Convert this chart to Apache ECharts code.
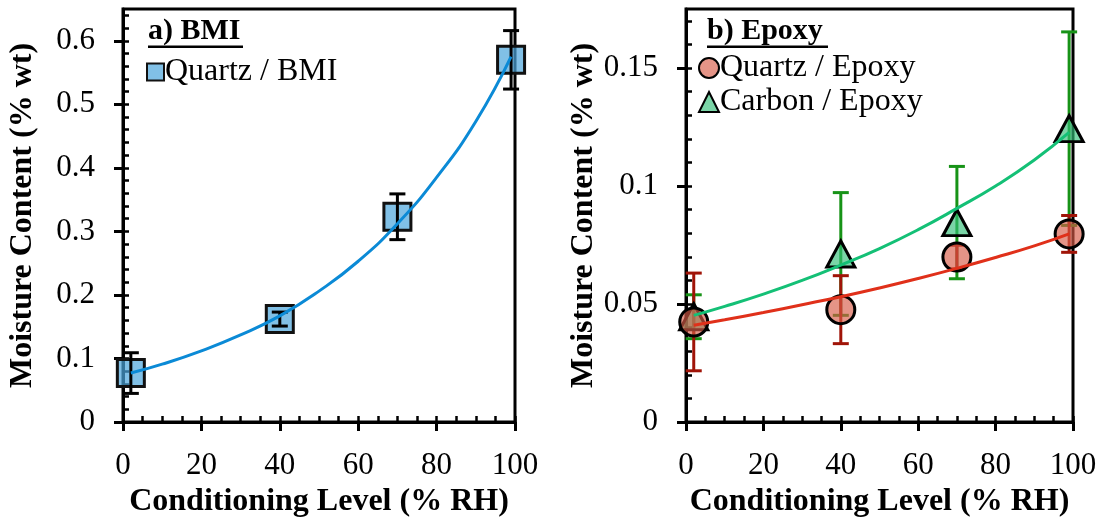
<!DOCTYPE html>
<html><head><meta charset="utf-8">
<script src="https://cdn.jsdelivr.net/npm/echarts@6/dist/echarts.min.js"></script>
<style>html,body{margin:0;padding:0;background:#fff}#c{width:1104px;height:517px}</style>
</head><body><div id="c"></div>
<script>
// ---------- Panel a) BMI ----------
const rhA = [2, 40, 70, 99];
const bmiMoisture = [0.077, 0.162, 0.323, 0.570];
const bmiError = [0.032, 0.011, 0.036, 0.046];
const bmiFitRH = [2, 10, 20, 30, 40, 50, 60, 70, 80, 90, 99];
const bmiFit = [0.077, 0.091, 0.112, 0.137, 0.167, 0.206, 0.253, 0.312, 0.385, 0.473, 0.575];

// ---------- Panel b) Epoxy ----------
const rhB = [2, 40, 70, 99];
const qeMoisture = [0.0424, 0.0476, 0.0699, 0.0797];
const qeError = [0.0207, 0.0144, 0.0050, 0.0078];
const ceMoisture = [0.0446, 0.0712, 0.0845, 0.1243];
const ceError = [0.0093, 0.0260, 0.0238, 0.0410];
const fitRH = [2, 10, 20, 30, 40, 50, 60, 70, 80, 90, 99];
const qeFit = [0.0410, 0.0433, 0.0464, 0.0497, 0.0531, 0.0568, 0.0608, 0.0651, 0.0697, 0.0746, 0.0797];
const ceFit = [0.0452, 0.0490, 0.0542, 0.0600, 0.0665, 0.0735, 0.0815, 0.0905, 0.1000, 0.1110, 0.1227];

// ---------- Ticks ----------
const xTicks = [0, 20, 40, 60, 80, 100];
const xMinorTicks = [0, 5, 10, 15, 20, 25, 30, 35, 40, 45, 50, 55, 60, 65, 70, 75, 80, 85, 90, 95, 100];
const yTicksA = [0, 0.1, 0.2, 0.3, 0.4, 0.5, 0.6];
const yMinorTicksA = [0, 0.02, 0.04, 0.06, 0.08, 0.1, 0.12, 0.14, 0.16, 0.18, 0.2, 0.22, 0.24, 0.26, 0.28, 0.3, 0.32, 0.34, 0.36, 0.38, 0.4, 0.42, 0.44, 0.46, 0.48, 0.5, 0.52, 0.54, 0.56, 0.58, 0.6, 0.62, 0.64];
const yTicksB = [0, 0.05, 0.1, 0.15];
const yMinorTicksB = [0, 0.01, 0.02, 0.03, 0.04, 0.05, 0.06, 0.07, 0.08, 0.09, 0.1, 0.11, 0.12, 0.13, 0.14, 0.15, 0.16, 0.17];

const FONT = '"Liberation Serif", "Times New Roman", serif';
const labelStyle = {fontFamily: FONT, fontSize: 31, color: '#000'};
const legendStyle = {fontFamily: FONT, fontSize: 32, color: '#000'};
const nameStyle = {fontFamily: FONT, fontSize: 32, fontWeight: 'bold', color: '#000'};

function mainAxis(gridIndex, min, max, ticks, extra) {
  return Object.assign({
    type: 'value', gridIndex, min, max,
    axisLine: {show: true, onZero: false, lineStyle: {color: '#000', width: 3}},
    axisTick: {show: true, inside: false, length: 9, lineStyle: {color: '#000', width: 3}, customValues: ticks},
    axisLabel: {show: true, customValues: ticks, ...labelStyle},
    splitLine: {show: false},
    nameTextStyle: nameStyle,
    nameLocation: 'middle'
  }, extra);
}
function minorAxis(gridIndex, min, max, ticks, position) {
  return {
    type: 'value', gridIndex, min, max, position,
    axisLine: {show: false},
    axisLabel: {show: false},
    splitLine: {show: false},
    axisTick: {show: true, inside: true, length: 6, lineStyle: {color: '#000', width: 2.5}, customValues: ticks}
  };
}
function pairs(xs, ys) { return xs.map((x, i) => [x, ys[i]]); }
function errData(xs, ys, es) { return xs.map((x, i) => [x, ys[i] - es[i], ys[i] + es[i]]); }
function errSeries(name, xi, yi, data, color) {
  return {
    type: 'custom', name, xAxisIndex: xi, yAxisIndex: yi, data,
    encode: {x: 0, y: [1, 2]},
    renderItem: function (params, api) {
      const x = api.value(0), lo = api.value(1), hi = api.value(2);
      const a = api.coord([x, lo]), b = api.coord([x, hi]);
      const st = {stroke: color, lineWidth: 3, fill: null};
      const c = 8;
      return {type: 'group', children: [
        {type: 'line', shape: {x1: a[0], y1: a[1], x2: b[0], y2: b[1]}, style: st},
        {type: 'line', shape: {x1: a[0] - c, y1: a[1], x2: a[0] + c, y2: a[1]}, style: st},
        {type: 'line', shape: {x1: b[0] - c, y1: b[1], x2: b[0] + c, y2: b[1]}, style: st}
      ]};
    },
    z: 3
  };
}
function fitSeries(name, xi, yi, data, color) {
  return {type: 'line', name, xAxisIndex: xi, yAxisIndex: yi, data, smooth: 0.5,
    symbol: 'none', lineStyle: {color, width: 3}, z: 5, silent: true};
}

const chart = echarts.init(document.getElementById('c'), null, {renderer: 'canvas'});
chart.setOption({
  animation: false,
  backgroundColor: '#fff',
  grid: [
    {left: 123, top: 9, width: 392, height: 413, show: true, borderColor: '#000', borderWidth: 3, containLabel: false, outerBoundsMode: 'none'},
    {left: 686, top: 9, width: 387, height: 413, show: true, borderColor: '#000', borderWidth: 3, containLabel: false, outerBoundsMode: 'none'}
  ],
  xAxis: [
    mainAxis(0, 0, 100, xTicks, {position: 'bottom', name: 'Conditioning Level (% RH)', nameGap: 59, axisLabel: {customValues: xTicks, margin: 28, ...labelStyle}}),
    minorAxis(0, 0, 100, xMinorTicks, 'bottom'),
    mainAxis(1, 0, 100, xTicks, {position: 'bottom', name: 'Conditioning Level (% RH)', nameGap: 59, axisLabel: {customValues: xTicks, margin: 28, ...labelStyle}}),
    minorAxis(1, 0, 100, xMinorTicks, 'bottom')
  ],
  yAxis: [
    mainAxis(0, 0, 0.65, yTicksA, {position: 'left', name: 'Moisture Content (% wt)', nameGap: 84, axisLabel: {customValues: yTicksA, margin: 28, ...labelStyle}}),
    minorAxis(0, 0, 0.65, yMinorTicksA, 'left'),
    mainAxis(1, 0, 0.175, yTicksB, {position: 'left', name: 'Moisture Content (% wt)', nameGap: 84, axisLabel: {customValues: yTicksB, margin: 28, ...labelStyle}}),
    minorAxis(1, 0, 0.175, yMinorTicksB, 'left')
  ],
  legend: [
    {data: ['Quartz / BMI'], left: 141, top: 51, itemWidth: 17, itemHeight: 17, itemGap: 6, selectedMode: false,
      textStyle: {...legendStyle, padding: [0, 0, 0, -4]}},
    {data: ['Quartz / Epoxy', 'Carbon / Epoxy'], orient: 'vertical', left: 693, top: 47, itemWidth: 20, itemHeight: 20, itemGap: 2, selectedMode: false,
      textStyle: {...legendStyle, padding: [0, 0, 0, -4]}}
  ],
  graphic: [
    {type: 'text', left: 148, top: 16, style: {text: 'a) BMI', font: 'bold 30px ' + FONT, fill: '#000'}},
    {type: 'rect', shape: {x: 148, y: 45.5, width: 95, height: 2.5}, style: {fill: '#000'}},
    {type: 'text', left: 707, top: 16, style: {text: 'b) Epoxy', font: 'bold 30px ' + FONT, fill: '#000'}},
    {type: 'rect', shape: {x: 707, y: 45.5, width: 121, height: 2.5}, style: {fill: '#000'}}
  ],
  series: [
    {type: 'scatter', name: 'Quartz / BMI', xAxisIndex: 0, yAxisIndex: 0, data: pairs(rhA, bmiMoisture),
      symbol: 'rect', symbolSize: 27, itemStyle: {color: 'rgba(75,165,220,0.7)', borderColor: '#111', borderWidth: 3, opacity: 1}, z: 2},
    errSeries('BMI error', 0, 0, errData(rhA, bmiMoisture, bmiError), '#000'),
    fitSeries('BMI fit', 0, 0, pairs(bmiFitRH, bmiFit), '#0b8ad6'),

    errSeries('Carbon error', 2, 2, errData(rhB, ceMoisture, ceError), '#179317'),
    {type: 'scatter', name: 'Carbon / Epoxy', xAxisIndex: 2, yAxisIndex: 2, data: pairs(rhB, ceMoisture),
      symbol: 'triangle', symbolSize: [28, 26], itemStyle: {color: 'rgba(50,190,120,0.65)', borderColor: '#000', borderWidth: 3, opacity: 1}, z: 3},
    errSeries('Quartz error', 2, 2, errData(rhB, qeMoisture, qeError), '#a01408'),
    {type: 'scatter', name: 'Quartz / Epoxy', xAxisIndex: 2, yAxisIndex: 2, data: pairs(rhB, qeMoisture),
      symbol: 'circle', symbolSize: 28, itemStyle: {color: 'rgba(215,90,70,0.65)', borderColor: '#000', borderWidth: 3, opacity: 1}, z: 3},
    fitSeries('Quartz fit', 2, 2, pairs(fitRH, qeFit), '#e0301a'),
    fitSeries('Carbon fit', 2, 2, pairs(fitRH, ceFit), '#14c076')
  ]
});
</script></body></html>
